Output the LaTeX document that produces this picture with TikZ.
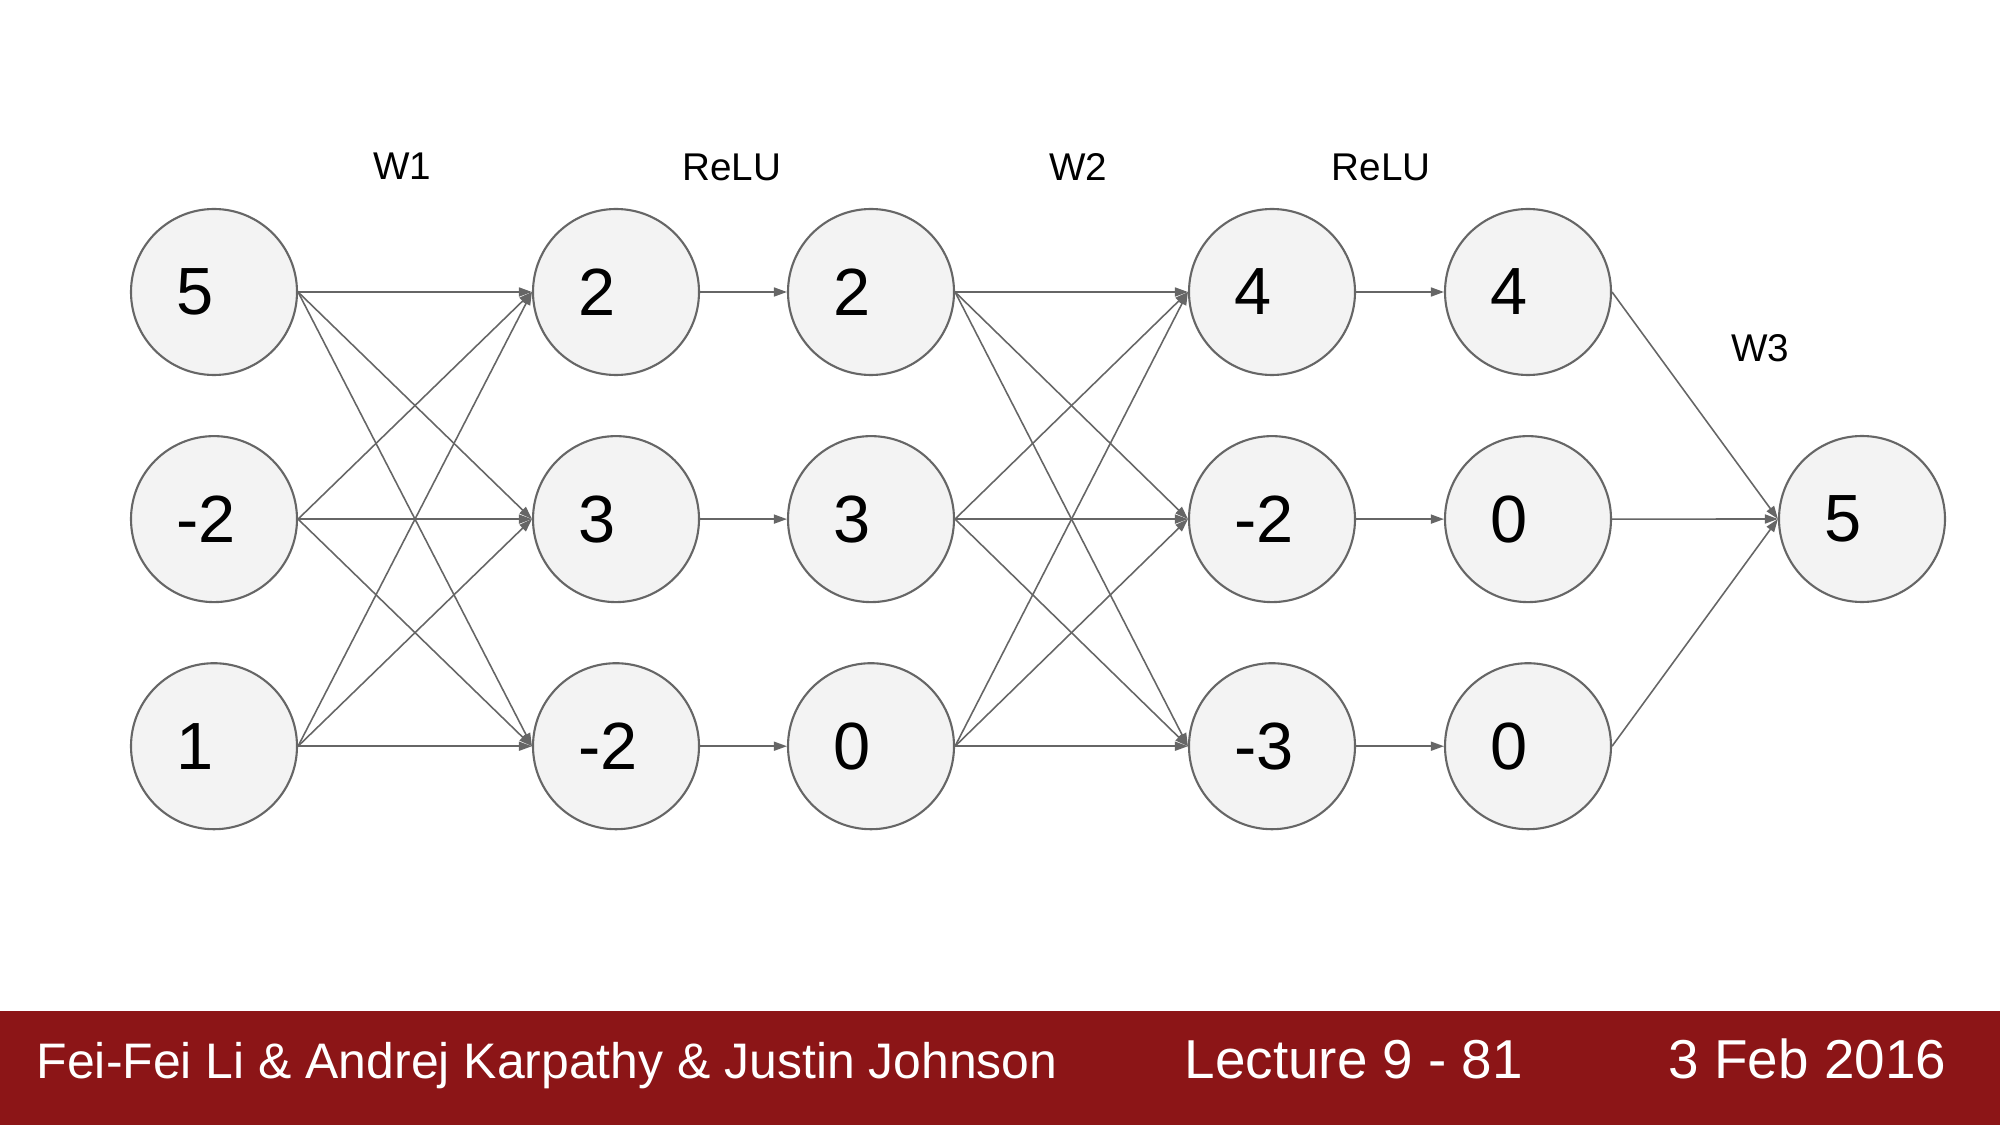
\documentclass[tikz,border=0pt]{standalone}
\usepackage{fontspec}
\setmainfont{Liberation Sans}
\usetikzlibrary{positioning,arrows.meta,calc}
\definecolor{nodegray}{RGB}{243,243,243}
\definecolor{edgegray}{RGB}{102,102,102}
\definecolor{footerred}{RGB}{140,21,23}
\newcommand{\numl}[1]{\makebox[0.76cm][l]{#1}}

\begin{document}
\begin{tikzpicture}[
    neuron/.style={circle, draw=edgegray, line width=0.6pt, fill=nodegray, minimum size=1.66cm, inner sep=0pt, font=\fontsize{19}{19}\selectfont},
    wire/.style={draw=edgegray, line width=0.45pt, -{Triangle[length=0.13cm,width=0.09cm]}},
    layerlabel/.style={font=\fontsize{11}{11}\selectfont},
    footertext/.style={text=white, font=\fontsize{14.2}{14.2}\selectfont, inner sep=0pt}
]
    \useasboundingbox (0,0) rectangle (20,11.25);
    \fill[footerred] (0,0) rectangle (20,1.14);

    % input layer
    \node[neuron] (i1) at (2.14,8.33) {\numl{5}};
    \node[neuron, below=0.59cm of i1] (i2) {\numl{-2}};
    \node[neuron, below=0.59cm of i2] (i3) {\numl{1}};

    % first hidden layer
    \node[neuron] (h1) at (6.16,8.33) {\numl{2}};
    \node[neuron, below=0.59cm of h1] (h2) {\numl{3}};
    \node[neuron, below=0.59cm of h2] (h3) {\numl{-2}};

    \node[neuron] (r1) at (8.71,8.33) {\numl{2}};
    \node[neuron, below=0.59cm of r1] (r2) {\numl{3}};
    \node[neuron, below=0.59cm of r2] (r3) {\numl{0}};

    % second hidden layer
    \node[neuron] (g1) at (12.72,8.33) {\numl{4}};
    \node[neuron, below=0.59cm of g1] (g2) {\numl{-2}};
    \node[neuron, below=0.59cm of g2] (g3) {\numl{-3}};

    \node[neuron] (s1) at (15.28,8.33) {\numl{4}};
    \node[neuron, below=0.59cm of s1] (s2) {\numl{0}};
    \node[neuron, below=0.59cm of s2] (s3) {\numl{0}};

    % output
    \node[neuron] (out) at (18.62,6.06) {\numl{5}};

    \foreach \a in {1,2,3} {
        \foreach \b in {1,2,3} {
            \draw[wire] (i\a.east) -- (h\b.west);
            \draw[wire] (r\a.east) -- (g\b.west);
        }
        \draw[wire] (h\a) -- (r\a);
        \draw[wire] (g\a) -- (s\a);
        \draw[wire] (s\a.east) -- (out.west);
    }

    \node[layerlabel] (w1lbl) at (4.02,9.59) {W1};
    \node[layerlabel] (relu1lbl) at (7.32,9.58) {ReLU};
    \node[layerlabel] (w2lbl) at (10.78,9.58) {W2};
    \node[layerlabel] (relu2lbl) at (13.81,9.58) {ReLU};
    \node[layerlabel] (w3lbl) at (17.60,7.77) {W3};

    % footer
    \node[footertext, anchor=base west] (authors) at (0.36,0.47) {Fei-Fei Li \& Andrej Karpathy \& Justin Johnson};
    \node[footertext, anchor=base west, font=\fontsize{15.6}{15.6}\selectfont] (lecture) at (11.84,0.47) {Lecture 9 - 81};
    \node[footertext, anchor=base west, font=\fontsize{15.6}{15.6}\selectfont] (date) at (16.68,0.47) {3 Feb 2016};
\end{tikzpicture}
\end{document}
